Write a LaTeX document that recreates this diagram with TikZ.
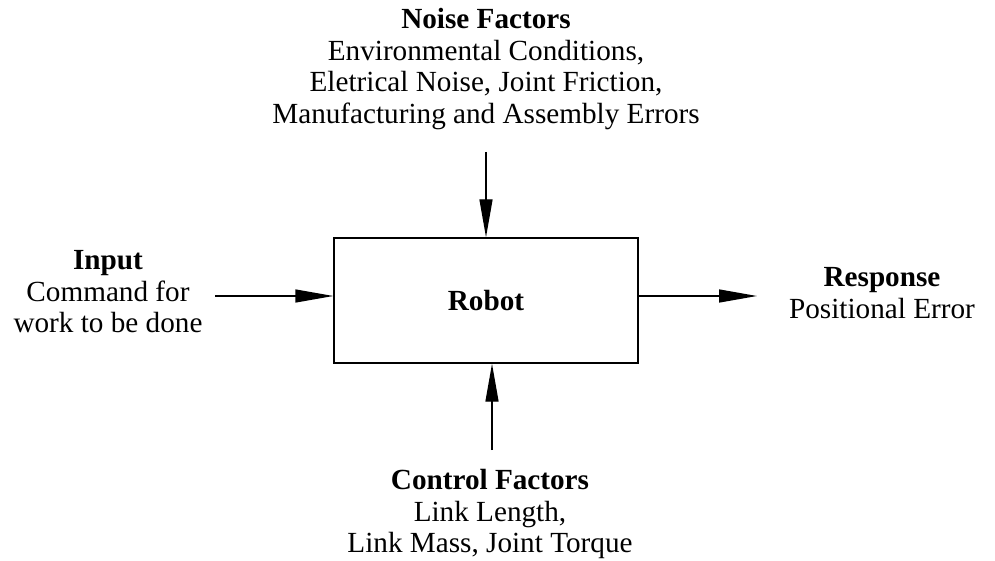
\documentclass[tikz,border=0pt]{standalone}
\usepackage{fontspec}
\setmainfont{Liberation Serif}
\usetikzlibrary{arrows.meta}

\begin{document}
\begin{tikzpicture}[x=0.5pt,y=-0.5pt,
        every node/.style={font=\fontsize{14.6pt}{15.8pt}\selectfont},
        flow/.style={line width=0.7pt,-{Triangle[length=19pt,width=6.5pt]}},
        blurb/.style={align=center,inner sep=0pt,anchor=north}]
    \useasboundingbox (0,0) rectangle (995,561);

    % the block in the middle
    \node[draw,line width=0.7pt,minimum width=152pt,minimum height=62.5pt,inner sep=0pt]
        (robot) at (486,300.5) {\textbf{Robot}};

    % texts round the block
    \node[blurb] (noise) at (486,8) {\textbf{Noise Factors}\\Environmental Conditions,\\Eletrical Noise, Joint Friction,\\Manufacturing and Assembly Errors};
    \node[blurb] (input) at (108,250) {\textbf{Input}\\Command for\\work to be done};
    \node[blurb] (response) at (882,267) {\textbf{Response}\\Positional Error};
    \node[blurb] (control) at (490,469) {\textbf{Control Factors}\\Link Length,\\Link Mass, Joint Torque};

    % free ends of the arrows
    \coordinate (intail) at (215,296);
    \coordinate (outhead) at (757,296);
    \coordinate (noisetail) at (486,152);
    \coordinate (ctrltail) at (492,450);

    \draw[flow] (intail) -- (robot.west |- intail);
    \draw[flow] (robot.east |- outhead) -- (outhead);
    \draw[flow] (noisetail) -- (robot.north);
    \draw[flow] (ctrltail) -- (ctrltail |- robot.south);
\end{tikzpicture}
\end{document}
